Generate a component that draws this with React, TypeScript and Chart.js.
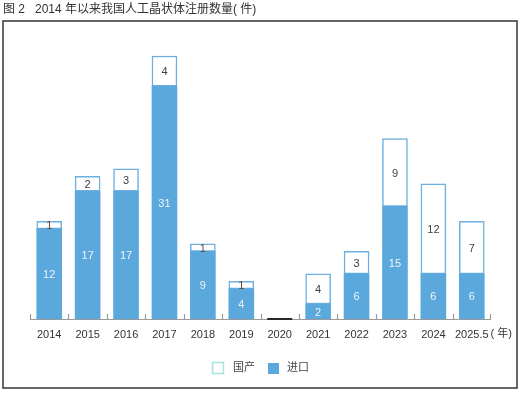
import React, { useEffect, useRef } from "react";
import { Chart, registerables } from "chart.js";

Chart.register(...registerables);

const categories = ["2014", "2015", "2016", "2017", "2018", "2019", "2020", "2021", "2022", "2023", "2024", "2025.5"];
const importCounts = [12, 17, 17, 31, 9, 4, 0, 2, 6, 15, 6, 6];
const domesticCounts = [1, 2, 3, 4, 1, 1, 0, 4, 3, 9, 12, 7];
const titleText = "图 2   2014 年以来我国人工晶状体注册数量( 件)";
const axisUnitSuffix = "( 年)";
const legendDomestic = "国产";
const legendImport = "进口";

const BLUE = "#5aa8dc";
const BORDER_BLUE = "#6db0e0";
const LEGEND_CYAN = "#a6e3de";
const FONT_FAMILY = '"Liberation Sans", "Noto Sans CJK SC", sans-serif';

const decorPlugin = {
  id: "decor",
  beforeDraw(chart: any) {
    const ctx = chart.ctx;
    ctx.save();
    ctx.fillStyle = "#ffffff";
    ctx.fillRect(0, 0, chart.width, chart.height);
    // title
    ctx.fillStyle = "#333333";
    ctx.font = `12px ${FONT_FAMILY}`;
    ctx.textBaseline = "middle";
    ctx.textAlign = "left";
    ctx.fillText(titleText, 3, 10);
    // frame
    ctx.strokeStyle = "#333333";
    ctx.lineWidth = 1.5;
    ctx.strokeRect(3, 21, 514, 367);
    ctx.restore();
  },
  afterDatasetsDraw(chart: any) {
    const ctx = chart.ctx;
    const xs = chart.scales.x;
    const area = chart.chartArea;
    const n = categories.length;
    const catW = (area.right - area.left) / n;
    ctx.save();
    // axis line
    ctx.strokeStyle = "#9a9a9a";
    ctx.lineWidth = 1.2;
    ctx.beginPath();
    ctx.moveTo(area.left, area.bottom + 0.5);
    ctx.lineTo(area.right, area.bottom + 0.5);
    for (let i = 0; i < n; i++) {
      const edge = Math.round(xs.getPixelForValue(i) - catW / 2) + 0.5;
      ctx.moveTo(edge, area.bottom - 5);
      ctx.lineTo(edge, area.bottom + 0.5);
    }
    const rEdge = Math.round(area.right) - 0.5;
    ctx.moveTo(rEdge, area.bottom - 5);
    ctx.lineTo(rEdge, area.bottom + 0.5);
    ctx.stroke();
    // zero-total marker
    const meta0 = chart.getDatasetMeta(0);
    for (let i = 0; i < n; i++) {
      if (importCounts[i] + domesticCounts[i] === 0) {
        const el = meta0.data[i];
        const w = el.width;
        ctx.strokeStyle = "#2a2a2a";
        ctx.lineWidth = 2;
        ctx.beginPath();
        ctx.moveTo(el.x - w / 2, area.bottom);
        ctx.lineTo(el.x + w / 2, area.bottom);
        ctx.stroke();
      }
    }
    // data labels
    ctx.font = `11px ${FONT_FAMILY}`;
    ctx.textAlign = "center";
    ctx.textBaseline = "middle";
    chart.data.datasets.forEach((ds: any, di: number) => {
      const meta = chart.getDatasetMeta(di);
      meta.data.forEach((el: any, i: number) => {
        const v = ds.data[i];
        if (!v) return;
        ctx.fillStyle = di === 0 ? "#eef5fb" : v === 1 ? "#6a4538" : "#404040";
        ctx.fillText(String(v), el.x, (el.y + el.base) / 2 + 1);
      });
    });
    // unit suffix after last tick label
    const lastX = xs.getPixelForValue(n - 1);
    ctx.font = `11px ${FONT_FAMILY}`;
    const lastW = ctx.measureText(categories[n - 1]).width;
    ctx.fillStyle = "#333333";
    ctx.textAlign = "left";
    ctx.textBaseline = "top";
    ctx.fillText(axisUnitSuffix, lastX + lastW / 2 + 2, area.bottom + 9);
    // legend
    ctx.textBaseline = "middle";
    ctx.strokeStyle = LEGEND_CYAN;
    ctx.lineWidth = 1.5;
    ctx.strokeRect(212.5, 362.5, 11, 11);
    ctx.fillStyle = "#444444";
    ctx.fillText(legendDomestic, 233, 368);
    ctx.fillStyle = BLUE;
    ctx.fillRect(268, 363, 11, 11);
    ctx.fillStyle = "#444444";
    ctx.fillText(legendImport, 287, 368);
    ctx.restore();
  },
};

export default function App() {
  const ref = useRef<HTMLCanvasElement | null>(null);
  useEffect(() => {
    if (!ref.current) return;
    const chart = new Chart(ref.current, {
      type: "bar",
      data: {
        labels: categories,
        datasets: [
          {
            label: legendImport,
            data: importCounts,
            backgroundColor: BLUE,
            borderWidth: 0,
            barThickness: 25,
          },
          {
            label: legendDomestic,
            data: domesticCounts,
            backgroundColor: "#ffffff",
            borderColor: BORDER_BLUE,
            borderWidth: 1.5,
            borderSkipped: false,
            barThickness: 25,
          },
        ],
      },
      options: {
        animation: false,
        responsive: false,
        devicePixelRatio: 1,
        layout: { padding: { left: 30, right: 30, top: 33.5, bottom: 54 } },
        plugins: { legend: { display: false }, tooltip: { enabled: false } },
        scales: {
          x: {
            stacked: true,
            offset: true,
            grid: { display: false, drawTicks: false },
            border: { display: false },
            ticks: {
              color: "#333333",
              font: { size: 11, family: FONT_FAMILY },
              padding: 9,
              maxRotation: 0,
              autoSkip: false,
            },
            afterFit: (scale: any) => {
              scale.height = 20;
            },
          },
          y: {
            stacked: true,
            display: false,
            min: 0,
            max: 38,
          },
        },
      },
      plugins: [decorPlugin],
    } as any);
    return () => chart.destroy();
  }, []);
  return (
    <div style={{ position: "absolute", left: 0, top: 0, width: 521, height: 393 }}>
      <canvas ref={ref} width={521} height={393} style={{ width: 521, height: 393 }} />
    </div>
  );
}
